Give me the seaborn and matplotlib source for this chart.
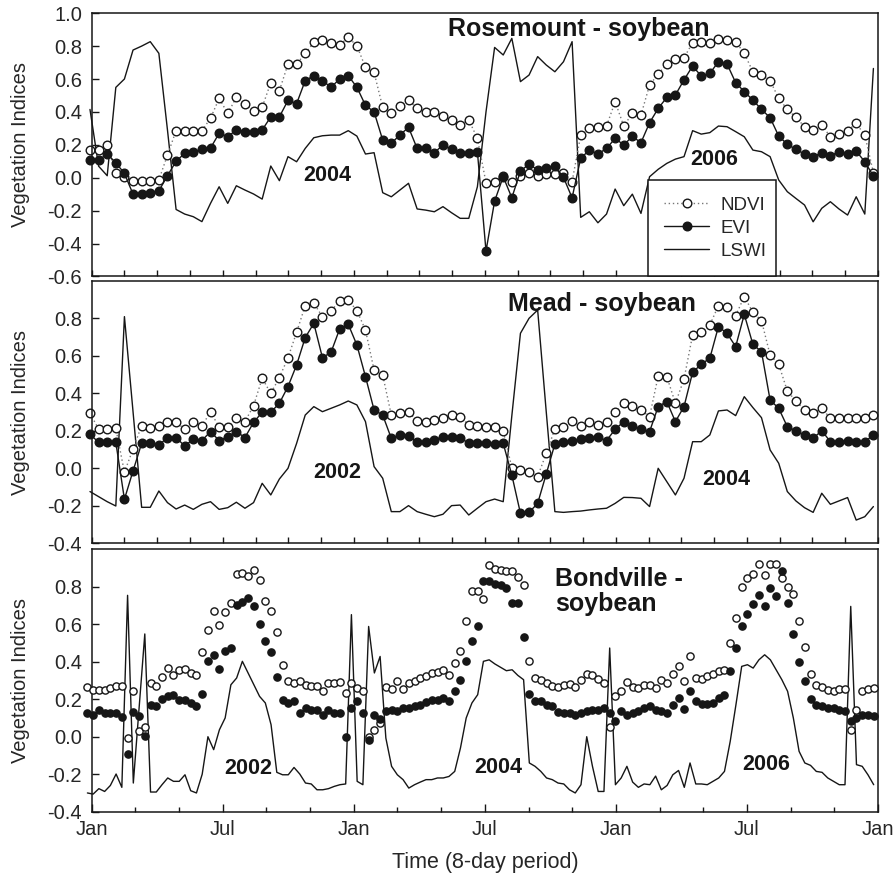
import numpy as np
import pandas as pd
import matplotlib
matplotlib.use("Agg")
import matplotlib.pyplot as plt
import seaborn as sns

# ---------------- data ----------------
# Rosemount - soybean (12-day steps as drawn)
ros_ndvi = [0.168,0.168,0.199,0.026,0.006,-0.018,-0.018,-0.022,-0.014,0.138,
            0.286,0.286,0.286,0.286,0.361,0.482,0.391,0.488,0.448,0.407,
            0.428,0.578,0.529,0.691,0.691,0.756,0.823,0.837,0.817,0.806,
            0.853,0.802,0.671,0.640,0.428,0.395,0.436,0.472,0.421,0.401,
            0.401,0.375,0.351,0.320,0.351,0.239,-0.030,-0.024,0.010,-0.024,
            0.012,0.026,0.012,0.020,0.022,0.026,-0.024,0.259,0.300,0.310,
            0.314,0.462,0.314,0.391,0.381,0.563,0.630,0.691,0.719,0.729,
            0.821,0.827,0.817,0.841,0.837,0.827,0.756,0.644,0.624,0.590,
            0.482,0.415,0.367,0.310,0.290,0.320,0.249,0.265,0.286,0.330,
            0.259,0.03]
ros_evi = [0.107,0.107,0.144,0.091,0.026,-0.10,-0.10,-0.095,-0.08,0.012,
           0.10,0.148,0.158,0.172,0.18,0.27,0.25,0.29,0.28,0.28,
           0.29,0.37,0.37,0.47,0.45,0.59,0.62,0.59,0.55,0.60,
           0.62,0.55,0.44,0.40,0.229,0.209,0.26,0.306,0.178,0.178,
           0.152,0.199,0.172,0.152,0.148,0.158,-0.446,-0.142,0.006,-0.122,
           0.04,0.083,0.047,0.061,0.071,0.002,-0.122,0.118,0.168,0.144,
           0.178,0.239,0.199,0.251,0.213,0.334,0.421,0.488,0.503,0.594,
           0.679,0.618,0.634,0.705,0.691,0.578,0.523,0.472,0.415,0.365,
           0.253,0.203,0.172,0.144,0.128,0.152,0.134,0.158,0.144,0.162,
           0.097,0.010]
ros_lswi = [0.415,0.07,0.012,0.549,0.60,0.776,0.80,0.827,0.756,0.29,
            -0.193,-0.221,-0.237,-0.267,-0.156,-0.055,-0.156,-0.049,-0.075,-0.099,
            -0.130,0.071,-0.018,0.128,0.097,0.178,0.243,0.255,0.259,0.259,
            0.286,0.253,0.144,0.152,-0.091,-0.116,-0.075,-0.034,-0.190,-0.197,
            -0.207,-0.176,-0.213,-0.247,-0.247,-0.055,0.4,0.792,0.746,0.847,
            0.584,0.624,0.736,0.685,0.644,0.705,0.827,-0.241,-0.207,-0.274,
            -0.221,-0.069,-0.17,-0.1,-0.217,0.006,0.051,0.087,0.113,0.128,
            0.286,0.265,0.274,0.314,0.310,0.280,0.249,0.168,0.158,0.128,
            -0.014,-0.085,-0.126,-0.166,-0.268,-0.186,-0.146,-0.190,-0.227,-0.116,
            -0.221,0.664]

# Mead - soybean
mead_ndvi = [0.293,0.210,0.210,0.213,-0.021,0.103,0.228,0.217,0.228,0.249,
             0.245,0.210,0.249,0.228,0.299,0.222,0.222,0.270,0.249,0.334,
             0.480,0.400,0.484,0.590,0.725,0.868,0.880,0.809,0.839,0.894,
             0.898,0.841,0.738,0.524,0.498,0.284,0.293,0.299,0.254,0.249,
             0.258,0.270,0.284,0.276,0.231,0.228,0.222,0.222,0.199,0.004,
             -0.009,-0.021,-0.044,0.080,0.210,0.222,0.254,0.228,0.245,0.231,
             0.249,0.302,0.350,0.332,0.311,0.276,0.492,0.489,0.347,0.476,
             0.711,0.725,0.764,0.868,0.862,0.814,0.916,0.832,0.788,0.604,
             0.555,0.412,0.359,0.311,0.293,0.320,0.267,0.267,0.270,0.270,
             0.270,0.284]
mead_evi = [0.181,0.139,0.139,0.139,-0.165,-0.014,0.133,0.133,0.124,0.164,
            0.164,0.119,0.156,0.148,0.196,0.148,0.169,0.196,0.164,0.245,
            0.299,0.299,0.347,0.436,0.551,0.697,0.773,0.590,0.619,0.743,
            0.768,0.658,0.489,0.311,0.284,0.160,0.178,0.172,0.142,0.142,
            0.151,0.169,0.169,0.164,0.133,0.133,0.133,0.128,0.133,-0.036,
            -0.240,-0.235,-0.187,-0.030,0.130,0.139,0.146,0.156,0.164,0.165,
            0.148,0.208,0.249,0.228,0.210,0.196,0.329,0.356,0.249,0.329,
            0.512,0.555,0.587,0.756,0.720,0.649,0.821,0.661,0.622,0.364,
            0.320,0.222,0.199,0.178,0.160,0.201,0.142,0.142,0.148,0.142,
            0.142,0.178]
mead_lswi = [-0.124,-0.151,-0.178,-0.201,0.809,0.302,-0.208,-0.208,-0.121,-0.183,
             -0.217,-0.196,-0.219,-0.192,-0.178,-0.219,-0.210,-0.181,-0.213,-0.183,
             -0.080,-0.142,-0.057,0.0,0.133,0.284,0.329,0.302,0.320,0.338,
             0.359,0.338,0.249,0.009,-0.053,-0.231,-0.231,-0.199,-0.231,-0.245,
             -0.258,-0.245,-0.199,-0.196,-0.249,-0.213,-0.178,-0.164,-0.178,0.28,
             0.72,0.80,0.844,0.30,-0.231,-0.235,-0.231,-0.228,-0.222,-0.217,
             -0.213,-0.187,-0.155,-0.156,-0.160,-0.204,0.0,-0.071,-0.142,-0.053,
             0.142,0.142,0.178,0.306,0.311,0.281,0.382,0.324,0.270,0.098,
             0.027,-0.124,-0.174,-0.210,-0.235,-0.133,-0.192,-0.174,-0.156,-0.276,
             -0.258,-0.204]

# Bondville - soybean (8-day periods)
bond_ndvi = [0.263,0.251,0.247,0.247,0.260,0.268,0.272,-0.007,0.242,0.028,
             0.05,0.286,0.268,0.316,0.366,0.331,0.357,0.361,0.34,0.327,
             0.452,0.571,0.672,0.597,0.665,0.713,0.869,0.873,0.855,0.891,
             0.837,0.722,0.672,0.558,0.380,0.295,0.286,0.299,0.277,0.268,
             0.268,0.242,0.286,0.286,0.29,0.233,0.286,0.26,0.242,-0.004,
             0.037,0.073,0.263,0.256,0.295,0.256,0.286,0.295,0.313,0.322,
             0.34,0.343,0.357,0.327,0.393,0.459,0.615,0.775,0.775,0.736,
             0.914,0.896,0.891,0.885,0.882,0.85,0.807,0.402,0.313,0.304,
             0.286,0.268,0.263,0.277,0.281,0.263,0.304,0.334,0.331,0.308,
             0.286,0.05,0.215,0.242,0.292,0.263,0.26,0.274,0.277,0.26,
             0.304,0.286,0.334,0.375,0.295,0.428,0.313,0.309,0.322,0.334,
             0.348,0.357,0.5,0.633,0.796,0.846,0.868,0.921,0.864,0.921,
             0.921,0.846,0.80,0.761,0.619,0.476,0.334,0.277,0.263,0.251,
             0.242,0.256,0.256,0.037,0.144,0.242,0.256,0.26]
bond_evi = [0.126,0.117,0.140,0.126,0.126,0.126,0.105,-0.091,0.130,0.108,
            0.005,0.171,0.165,0.203,0.215,0.224,0.197,0.197,0.18,0.165,
            0.229,0.402,0.437,0.363,0.459,0.473,0.704,0.718,0.740,0.695,
            0.603,0.508,0.452,0.316,0.197,0.18,0.188,0.126,0.153,0.144,
            0.144,0.117,0.144,0.126,0.126,-0.004,0.153,0.188,0.126,-0.016,
            0.117,0.096,0.135,0.144,0.135,0.153,0.153,0.162,0.171,0.185,
            0.197,0.194,0.206,0.188,0.245,0.304,0.405,0.508,0.588,0.828,
            0.832,0.814,0.811,0.793,0.713,0.713,0.53,0.229,0.192,0.188,
            0.171,0.162,0.132,0.126,0.126,0.117,0.126,0.135,0.140,0.144,
            0.153,0.126,0.082,0.135,0.114,0.126,0.135,0.153,0.162,0.144,
            0.135,0.126,0.171,0.206,0.149,0.242,0.188,0.174,0.174,0.18,
            0.206,0.224,0.348,0.473,0.588,0.654,0.708,0.757,0.695,0.793,
            0.748,0.882,0.713,0.548,0.398,0.295,0.203,0.171,0.162,0.153,
            0.153,0.140,0.135,0.082,0.10,0.114,0.117,0.108]
bond_lswi = [-0.30,-0.306,-0.277,-0.292,-0.26,-0.199,-0.27,0.754,-0.247,0.15,
             0.548,-0.295,-0.295,-0.256,-0.22,-0.238,-0.238,-0.203,-0.288,-0.30,
             -0.2,0.0,-0.069,0.037,0.10,0.277,0.313,0.402,0.34,0.277,
             0.215,0.18,0.064,-0.19,-0.203,-0.203,-0.164,-0.199,-0.247,-0.252,
             -0.283,-0.283,-0.277,-0.265,-0.256,-0.252,0.651,-0.238,-0.256,0.588,
             0.34,0.428,-0.007,-0.158,-0.203,-0.229,-0.274,-0.256,-0.242,-0.229,
             -0.229,-0.22,-0.22,-0.212,-0.185,-0.06,0.1,0.18,0.224,0.402,
             0.41,0.388,0.37,0.352,0.357,0.327,0.304,-0.14,-0.158,-0.185,
             -0.22,-0.229,-0.247,-0.252,-0.283,-0.30,-0.256,0.0,-0.158,-0.292,
             -0.292,0.473,-0.256,-0.22,-0.158,-0.242,-0.27,-0.252,-0.256,-0.21,
             -0.283,-0.26,-0.203,-0.18,-0.27,-0.14,-0.252,-0.252,-0.256,-0.238,
             -0.22,-0.185,-0.025,0.171,0.375,0.384,0.366,0.41,0.437,0.41,
             0.357,0.304,0.242,0.1,-0.078,-0.14,-0.153,-0.185,-0.19,-0.22,
             -0.238,-0.256,-0.256,0.695,-0.149,-0.158,-0.203,-0.256]

month_labels = ["Jan", "Jul", "Jan", "Jul", "Jan", "Jul", "Jan"]

# time axis (days since first Jan); 3 years shown
SPAN = 1096.0
def times(n, start, step):
    return start + step * np.arange(n)

t_rm = times(len(ros_evi), -2.4, 12.0)
t_b = times(len(bond_evi), -6.0, 8.0)

# ---------------- style ----------------
sns.set_style("ticks")
plt.rcParams["font.family"] = ["Liberation Sans", "DejaVu Sans"]
plt.rcParams["axes.unicode_minus"] = False
INK = "#161616"

fig = plt.figure(figsize=(8.93, 8.80), dpi=100)
L, W = 0.1027, 0.8805
ax1 = fig.add_axes([L, 0.6859, W, 0.2991])
ax2 = fig.add_axes([L, 0.3826, W, 0.2983])
ax3 = fig.add_axes([L, 0.0776, W, 0.2983])

def line_panel(ax, t, ndvi, evi, lswi):
    df = pd.DataFrame({"t": t, "NDVI": ndvi, "EVI": evi, "LSWI": lswi})
    sns.lineplot(data=df, x="t", y="LSWI", ax=ax, color=INK, lw=1.0,
                 estimator=None, sort=False, label="LSWI", clip_on=False)
    sns.lineplot(data=df, x="t", y="NDVI", ax=ax, color="#777777", lw=1.0,
                 linestyle=(0, (1, 2)), marker="o", markersize=6.2,
                 markerfacecolor="white", markeredgecolor=INK, markeredgewidth=1.0,
                 estimator=None, sort=False, label="NDVI", clip_on=False)
    sns.lineplot(data=df, x="t", y="EVI", ax=ax, color=INK, lw=1.0,
                 marker="o", markersize=6.2, markerfacecolor=INK,
                 markeredgecolor=INK, markeredgewidth=1.0,
                 estimator=None, sort=False, label="EVI", clip_on=False)

line_panel(ax1, t_rm, ros_ndvi, ros_evi, ros_lswi)
line_panel(ax2, t_rm, mead_ndvi, mead_evi, mead_lswi)

dfb = pd.DataFrame({"t": t_b, "NDVI": bond_ndvi, "EVI": bond_evi, "LSWI": bond_lswi})
sns.lineplot(data=dfb, x="t", y="LSWI", ax=ax3, color=INK, lw=1.0,
             estimator=None, sort=False, clip_on=False)
sns.scatterplot(data=dfb, x="t", y="NDVI", ax=ax3, marker="o", s=27,
                facecolor="white", edgecolor=INK, linewidth=1.0, clip_on=False, zorder=3)
sns.scatterplot(data=dfb, x="t", y="EVI", ax=ax3, marker="o", s=27,
                color=INK, edgecolor=INK, linewidth=1.0, clip_on=False, zorder=4)

# ---------------- axes ----------------
ylims = [(-0.6, 1.0), (-0.4, 1.0), (-0.4, 1.0)]
yticks = [np.arange(-0.6, 1.01, 0.2), np.arange(-0.4, 0.81, 0.2), np.arange(-0.4, 0.81, 0.2)]
for ax, yl, yt in zip([ax1, ax2, ax3], ylims, yticks):
    ax.set_xlim(0, SPAN)
    ax.set_ylim(*yl)
    ax.set_yticks(yt)
    ax.set_yticklabels([f"{v:.1f}" for v in yt])
    for s in ax.spines.values():
        s.set_visible(True)
        s.set_linewidth(1.1)
        s.set_color(INK)
    ax.tick_params(axis="both", which="both", direction="in", top=False, right=False,
                   color=INK, width=1.0, labelsize=14.5, pad=7)
    ax.tick_params(axis="y", length=5)
    ax.set_ylabel("Vegetation Indices", fontsize=14.5)
    ax.yaxis.set_label_coords(-0.078, 0.5)
    ax.set_xlabel("")
    legend = ax.get_legend()
    if legend is not None:
        legend.remove()

for ax in (ax1, ax2):
    ax.set_xticks(np.linspace(0, SPAN, 25))
    ax.set_xticklabels([])
    ax.tick_params(axis="x", length=4.5)

ax3.set_xticks(np.linspace(0, SPAN, 7))
ax3.set_xticklabels(month_labels)
ax3.set_xticks(np.linspace(0, SPAN, 19), minor=True)
ax3.tick_params(axis="x", which="major", length=5.5, pad=6)
ax3.tick_params(axis="x", which="minor", length=3.5)
ax3.set_xlabel("Time (8-day period)", fontsize=15.5)
ax3.xaxis.set_label_coords(0.5, -0.155)

# ---------------- legend (top panel) ----------------
hmap = {l.get_label(): l for l in ax1.get_lines()}
handles = [hmap["NDVI"], hmap["EVI"], hmap["LSWI"]]
leg = ax1.legend(handles, ["NDVI", "EVI", "LSWI"], loc="lower left",
                 bbox_to_anchor=(0.707, 0.0, 0.163, 0.3), mode="expand",
                 frameon=True, fancybox=False, shadow=False, fontsize=13.5,
                 handlelength=2.4, handletextpad=0.6, labelspacing=0.3,
                 borderpad=0.9, borderaxespad=0.0)
leg.get_frame().set_edgecolor(INK)
leg.get_frame().set_linewidth(1.1)
leg.get_frame().set_alpha(1.0)
leg.set_zorder(10)

# ---------------- texts ----------------
bold = dict(fontweight="bold", color=INK)
ax1.text(679, 0.905, "Rosemount - soybean", ha="center", va="center", fontsize=18, **bold)
ax1.text(329, 0.016, "2004", ha="center", va="center", fontsize=15.5, **bold)
ax1.text(868, 0.108, "2006", ha="center", va="center", fontsize=15.5, **bold)
ax2.text(711, 0.876, "Mead - soybean", ha="center", va="center", fontsize=18, **bold)
ax2.text(342, -0.025, "2002", ha="center", va="center", fontsize=15.5, **bold)
ax2.text(885, -0.062, "2004", ha="center", va="center", fontsize=15.5, **bold)
ax3.text(646, 0.905, "Bondville -\nsoybean", ha="left", va="top", fontsize=18,
         linespacing=1.05, **bold)
ax3.text(218, -0.171, "2002", ha="center", va="center", fontsize=15.5, **bold)
ax3.text(566, -0.165, "2004", ha="center", va="center", fontsize=15.5, **bold)
ax3.text(940, -0.149, "2006", ha="center", va="center", fontsize=15.5, **bold)

fig.savefig("out.png", dpi=100, facecolor="white")
